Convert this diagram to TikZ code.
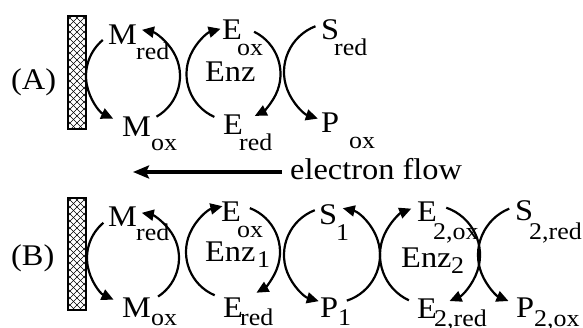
\documentclass[tikz,border=0pt]{standalone}
\usepackage{fontspec}
\setmainfont{Liberation Serif}[FakeStretch=1.08]
\usetikzlibrary{arrows.meta}
\begin{document}
\begin{tikzpicture}[x=1pt,y=-1pt,
  lbl/.style={anchor=base west,inner sep=0pt,font=\fontsize{30}{32}\selectfont},
  sublbl/.style={anchor=base west,inner sep=0pt,font=\fontsize{24}{26}\selectfont},
  cyc/.style={line width=2.2pt,-{Triangle[length=12pt,width=11pt]}},
  flow/.style={line width=4.5pt,-{Stealth[length=16pt,width=13pt,inset=3pt]}},
  electrodebox/.style={line width=2.5pt},
  hatchline/.style={line width=0.6pt}]
\useasboundingbox (0,0) rectangle (583,328);

% ---------- electrodes ----------
\foreach \nm/\ya/\yb in {elA/16/129, elB/198/310}{
  \begin{scope}
    \clip (68,\ya) rectangle (86,\yb);
    \foreach \k in {-21,-14,...,126}{
      \draw[hatchline] (68,\ya+\k) -- ++(18,18);
      \draw[hatchline] (86,\ya+\k) -- ++(-18,18);
    }
  \end{scope}
  \draw[electrodebox] (68,\ya) rectangle (86,\yb);
}

% ---------- panel A ----------
\node[lbl] (labA) at (11,90) {(A)};
\node[lbl] (MredA) at (108,45) {M};
\node[sublbl] (MredAs) at (136,60) {red};
\node[lbl] (MoxA) at (122,137) {M};
\node[sublbl] (MoxAs) at (151,151) {ox};
\node[lbl] (EoxA) at (222,40) {E};
\node[sublbl] (EoxAs) at (237,56) {ox};
\node[lbl] (EnzA) at (205,82) {Enz};
\node[lbl] (EredA) at (223,135) {E};
\node[sublbl] (EredAs) at (239,151) {red};
\node[lbl] (SredA) at (321,40) {S};
\node[sublbl] (SredAs) at (334,56) {red};
\node[lbl] (PoxA) at (321,133) {P};
\node[sublbl] (PoxAs) at (349,149) {ox};

\coordinate (cMA) at (133,76);
\coordinate (cEA) at (233.5,74);
\coordinate (cSA) at (333,72);
\draw[cyc] ([shift={(230:47)}]cMA) arc[start angle=230,end angle=115,radius=47];
\draw[cyc] ([shift={(60:47)}]cMA) arc[start angle=60,end angle=-79,radius=47];
\draw[cyc] ([shift={(114:47)}]cEA) arc[start angle=114,end angle=254,radius=47];
\draw[cyc] ([shift={(-64:47)}]cEA) arc[start angle=-64,end angle=63,radius=47];
\draw[cyc] ([shift={(249:49)}]cSA) arc[start angle=249,end angle=108,radius=49];

% ---------- electron flow ----------
\node[lbl] (ef) at (290,180) {electron flow};
\coordinate (efs) at (282,172);
\coordinate (efe) at (133,172);
\draw[flow] (efs) -- (efe);

% ---------- panel B ----------
\node[lbl] (labB) at (11,266) {(B)};
\node[lbl] (MredB) at (108,227) {M};
\node[sublbl] (MredBs) at (136,241) {red};
\node[lbl] (MoxB) at (122,317) {M};
\node[sublbl] (MoxBs) at (151,325) {ox};
\node[lbl] (EoxB) at (221,222) {E};
\node[sublbl] (EoxBs) at (237,238) {ox};
\node[lbl] (EnzB) at (205,262) {Enz};
\node[sublbl] (EnzBs) at (257,268) {1};
\node[lbl] (EredB) at (223,317) {E};
\node[sublbl] (EredBs) at (240,325) {red};
\node[lbl] (S1B) at (319,225) {S};
\node[sublbl] (S1Bs) at (336,241) {1};
\node[lbl] (P1B) at (320,317) {P};
\node[sublbl] (P1Bs) at (338,325) {1};
\node[lbl] (E2oxB) at (417,222) {E};
\node[sublbl] (E2oxBs) at (433,240) {2,ox};
\node[lbl] (Enz2B) at (401,268) {Enz};
\node[sublbl] (Enz2Bs) at (451,274) {2};
\node[lbl] (E2redB) at (417,318) {E};
\node[sublbl] (E2redBs) at (434,326) {2,red};
\node[lbl] (S2redB) at (515,221) {S};
\node[sublbl] (S2redBs) at (529,240) {2,red};
\node[lbl] (P2oxB) at (516,317) {P};
\node[sublbl] (P2oxBs) at (534,326) {2,ox};

\coordinate (cMB) at (133,258);
\coordinate (cE1B) at (233,252);
\coordinate (cS1B) at (332,255);
\coordinate (cE2B) at (430,255);
\coordinate (cS2B) at (528,255);
\draw[cyc] ([shift={(230:46)}]cMB) arc[start angle=230,end angle=115,radius=46];
\draw[cyc] ([shift={(57:46)}]cMB) arc[start angle=57,end angle=-79,radius=46];
\draw[cyc] ([shift={(113:47)}]cE1B) arc[start angle=113,end angle=257,radius=47];
\draw[cyc] ([shift={(-69:47)}]cE1B) arc[start angle=-69,end angle=60,radius=47];
\draw[cyc] ([shift={(249:48)}]cS1B) arc[start angle=249,end angle=106,radius=48];
\draw[cyc] ([shift={(72:48)}]cS1B) arc[start angle=72,end angle=-77,radius=48];
\draw[cyc] ([shift={(115:50)}]cE2B) arc[start angle=115,end angle=248,radius=50];
\draw[cyc] ([shift={(-71:50)}]cE2B) arc[start angle=-71,end angle=67,radius=50];
\draw[cyc] ([shift={(248:50)}]cS2B) arc[start angle=248,end angle=113,radius=50];
\end{tikzpicture}
\end{document}
